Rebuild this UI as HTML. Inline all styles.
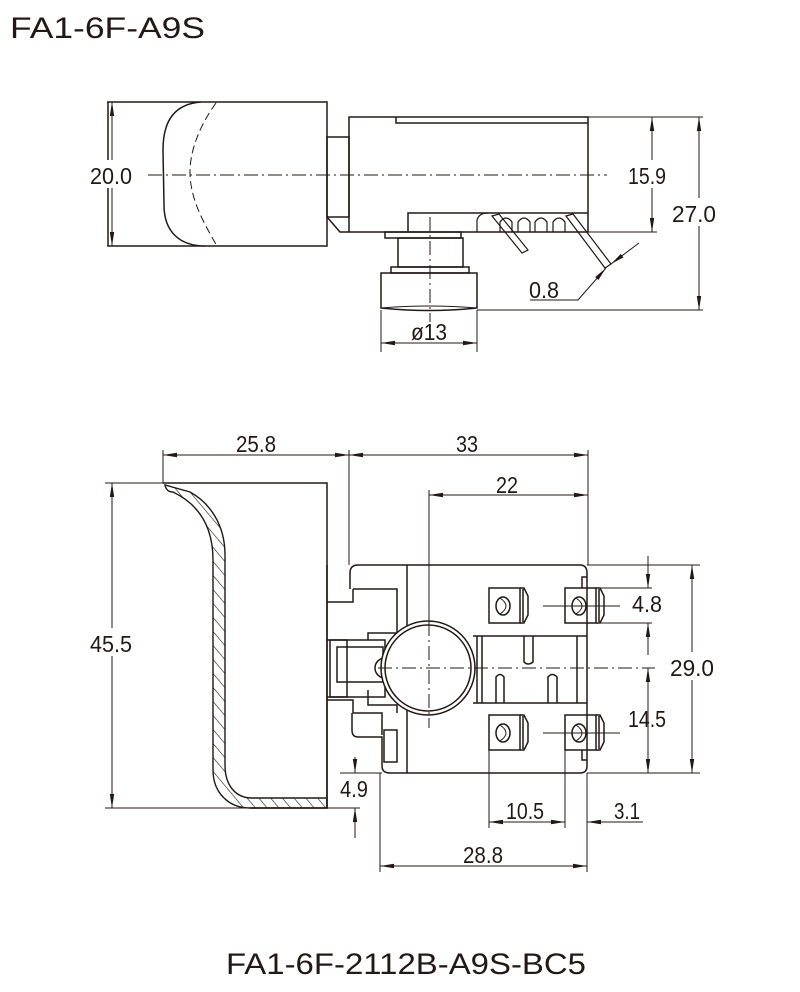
<!DOCTYPE html>
<html><head><meta charset="utf-8"><style>
html,body{margin:0;padding:0;background:#fff;width:800px;height:992px;overflow:hidden}
svg{display:block}
text{font-family:"Liberation Sans",sans-serif;fill:#231815}
.d{font-size:23px}
</style></head><body>
<svg width="800" height="992" viewBox="0 0 800 992" xmlns="http://www.w3.org/2000/svg">
<defs>
<marker id="a" viewBox="0 0 14 6" refX="14" refY="3" markerWidth="14" markerHeight="6" markerUnits="userSpaceOnUse" orient="auto-start-reverse"><path d="M0,0.8 L14,3 L0,5.2z" fill="#231815"/></marker>
<pattern id="h" patternUnits="userSpaceOnUse" width="9" height="9" patternTransform="rotate(-40)"><line x1="0" y1="0" x2="0" y2="9" stroke="#231815" stroke-width="1.2"/></pattern>
</defs>
<g fill="none" stroke="#231815" stroke-width="1.5">
<!-- ========== TOP VIEW ========== -->
<rect x="108" y="102" width="219" height="144"/>
<path d="M201,102 C175,104 163,120 163,150 L164,205 C164,232 180,246 205,246" fill="#fff"/>
<path d="M216,103 C200,125 190,150 190,172 C190,200 205,225 217,246" stroke-width="1" stroke-dasharray="8,4"/>
<rect x="327" y="137" width="22" height="80"/>
<path d="M327,217 L340,232 L349,232"/>
<rect x="349" y="117" width="239" height="115"/>
<path d="M396,117 L396,123 L588,123"/>
<path d="M408,232 L408,213 L588,213"/>
<path d="M477,232 L477,220 Q479,213 488,213 M500,232 L500,222 Q506,214 512,222 L512,232 M518,232 L518,222 Q524,214 530,222 L530,232 M535,232 L535,222 Q541,214 547,222 L547,232 M553,232 L553,222 Q559,214 565,222 L565,232" stroke-width="1.2"/>
<path d="M492,216 L522,253 L528,250 L499,214 Z" stroke-width="1.2"/>
<path d="M566,216 L605,268 L611,264 L573,214 Z" stroke-width="1.2"/>
<rect x="385" y="232" width="76" height="6"/>
<rect x="398" y="238" width="65" height="29"/>
<rect x="391" y="267" width="78" height="6"/>
<path d="M381,273 L477,273 L477,308 Q429,313 381,308 Z"/>
<path d="M381,308 Q429,304 477,308" stroke-width="1"/>
<g stroke-width="1">
<line x1="107" y1="102" x2="200" y2="102"/><line x1="107" y1="246" x2="205" y2="246"/>
<line x1="112" y1="102" x2="112" y2="246" marker-start="url(#a)" marker-end="url(#a)"/>
<line x1="148" y1="175" x2="607" y2="175" stroke-dasharray="14,4,2,4"/>
<line x1="430" y1="217" x2="430" y2="322" stroke-dasharray="14,4,2,4"/>
<line x1="588" y1="117" x2="703" y2="117"/><line x1="588" y1="232" x2="657" y2="232"/>
<line x1="652" y1="117" x2="652" y2="232" marker-start="url(#a)" marker-end="url(#a)"/>
<line x1="477" y1="310" x2="703" y2="310"/>
<line x1="699" y1="117" x2="699" y2="310" marker-start="url(#a)" marker-end="url(#a)"/>
<line x1="381" y1="310" x2="381" y2="352"/><line x1="477" y1="310" x2="477" y2="352"/>
<line x1="381" y1="343" x2="477" y2="343" marker-start="url(#a)" marker-end="url(#a)"/>
<path d="M530,300 L578,300 L606,268" marker-end="url(#a)"/>
<line x1="639" y1="243" x2="611" y2="264" marker-end="url(#a)"/>
</g>
<!-- ========== BOTTOM VIEW ========== -->
<path d="M163,483 L327,483 L327,808 L250,808"/>
<path d="M165,485 C166,490 169,492 173,492 C200,505 213,528 213,560 L213,770 C213,792 228,808 250,808 L327,808 L327,798 L252,798 C236,798 225,786 225,765 L225,555 C225,525 210,503 190,492 Z" fill="url(#h)" stroke-width="1.4"/>
<path d="M350,589 L350,573 Q350,565 358,565 L580,565 Q587,565 587,573 L587,766 Q587,773 580,773 L390,773 Q382,773 382,766 L382,737 L358,737 Q352,737 352,730 L352,713"/>
<path d="M353,589 L397,589 L397,633 L368,633 L368,640 M353,589 L353,602 L327,602 M327,565 L327,808"/>
<path d="M327,640 L347,640 L347,697 L327,697 M327,700 L353,700 L353,713 L382,713 L382,735"/>
<path d="M368,690 L368,705 L397,705 L397,713"/>
<line x1="407" y1="565" x2="407" y2="773"/>
<rect x="330" y="640" width="55" height="57"/>
<rect x="337" y="647" width="46" height="35"/>
<path d="M385,658 A10,10 0 0 0 385,678"/>
<circle cx="428" cy="668" r="47" fill="#fff"/>
<circle cx="428" cy="668" r="43"/>
<path d="M473,636 L587,636 M473,703 L587,703 M477,636 L477,703 M482,636 L482,703 M577,636 L577,703"/>
<path d="M524,636 L524,662 Q528,666 533,662 L533,636 M496,703 L496,677 Q500,672 504,677 L504,703 M548,703 L548,677 Q552,672 557,677 L557,703"/>
<rect x="384" y="730" width="13" height="32"/>
<path d="M582,588 L582,577 L587,577 M582,750 L582,760 L587,760"/>
<g id="t">
<rect x="489" y="588" width="31" height="35"/>
<path d="M520,588 L524,588 L528,596 L528,615 L524,623 L520,623 M523,589 L523,622"/>
<ellipse cx="503" cy="606" rx="7" ry="9"/>
<path d="M500,598 Q512,606 500,614" stroke-width="1"/>
</g>
<use href="#t" x="76" y="0"/>
<use href="#t" x="0" y="127"/>
<use href="#t" x="76" y="127"/>
<g stroke-width="1">
<line x1="163" y1="450" x2="163" y2="483"/><line x1="349" y1="450" x2="349" y2="565"/><line x1="588" y1="450" x2="588" y2="565"/>
<line x1="163" y1="455" x2="349" y2="455" marker-start="url(#a)" marker-end="url(#a)"/>
<line x1="349" y1="455" x2="588" y2="455" marker-start="url(#a)" marker-end="url(#a)"/>
<line x1="429" y1="490" x2="429" y2="622"/>
<line x1="429" y1="495" x2="588" y2="495" marker-start="url(#a)" marker-end="url(#a)"/>
<line x1="429" y1="622" x2="429" y2="728" stroke-dasharray="14,4,2,4"/>
<line x1="378" y1="668" x2="655" y2="668" stroke-dasharray="14,4,2,4"/>
<line x1="105" y1="483" x2="165" y2="483"/><line x1="105" y1="808" x2="360" y2="808"/>
<line x1="112" y1="483" x2="112" y2="808" marker-start="url(#a)" marker-end="url(#a)"/>
<line x1="587" y1="565" x2="700" y2="565"/><line x1="587" y1="773" x2="700" y2="773"/>
<line x1="692" y1="565" x2="692" y2="773" marker-start="url(#a)" marker-end="url(#a)"/>
<line x1="597" y1="588" x2="652" y2="588"/><line x1="597" y1="623" x2="652" y2="623"/>
<line x1="648" y1="556" x2="648" y2="588" marker-end="url(#a)"/>
<line x1="648" y1="655" x2="648" y2="623" marker-end="url(#a)"/>
<line x1="648" y1="668" x2="648" y2="773" marker-start="url(#a)" marker-end="url(#a)"/>
<line x1="543" y1="606" x2="620" y2="606"/><line x1="543" y1="733" x2="620" y2="733"/>
<line x1="340" y1="773" x2="382" y2="773"/>
<line x1="355" y1="757" x2="355" y2="773" marker-end="url(#a)"/>
<line x1="355" y1="838" x2="355" y2="808" marker-end="url(#a)"/>
<line x1="489" y1="750" x2="489" y2="828"/><line x1="565" y1="750" x2="565" y2="828"/>
<line x1="587" y1="773" x2="587" y2="872"/><line x1="380" y1="773" x2="380" y2="872"/>
<line x1="489" y1="822" x2="565" y2="822" marker-start="url(#a)" marker-end="url(#a)"/>
<line x1="587" y1="822" x2="643" y2="822"/>
<line x1="606" y1="822" x2="587" y2="822" marker-end="url(#a)"/>
<line x1="380" y1="866" x2="587" y2="866" marker-start="url(#a)" marker-end="url(#a)"/>
</g>
</g>
<text x="10" y="38" font-size="30" textLength="195" lengthAdjust="spacingAndGlyphs">FA1-6F-A9S</text>
<text x="226" y="974" font-size="30" textLength="360" lengthAdjust="spacingAndGlyphs">FA1-6F-2112B-A9S-BC5</text>
<g class="d">
<rect x="88" y="160" width="46" height="28" fill="#fff"/><text x="90" y="184" textLength="42" lengthAdjust="spacingAndGlyphs">20.0</text>
<rect x="626" y="160" width="44" height="28" fill="#fff"/><text x="628" y="184" textLength="38" lengthAdjust="spacingAndGlyphs">15.9</text>
<rect x="670" y="198" width="48" height="28" fill="#fff"/><text x="672" y="222" textLength="44" lengthAdjust="spacingAndGlyphs">27.0</text>
<text x="529" y="298" textLength="30" lengthAdjust="spacingAndGlyphs">0.8</text>
<text x="411" y="340" textLength="36" lengthAdjust="spacingAndGlyphs">ø13</text>
<text x="236" y="452" textLength="40" lengthAdjust="spacingAndGlyphs">25.8</text>
<text x="456" y="452" textLength="22" lengthAdjust="spacingAndGlyphs">33</text>
<text x="496" y="493" textLength="22" lengthAdjust="spacingAndGlyphs">22</text>
<rect x="88" y="628" width="46" height="28" fill="#fff"/><text x="90" y="652" textLength="42" lengthAdjust="spacingAndGlyphs">45.5</text>
<text x="632" y="612" textLength="30" lengthAdjust="spacingAndGlyphs">4.8</text>
<rect x="668" y="652" width="50" height="28" fill="#fff"/><text x="670" y="676" textLength="44" lengthAdjust="spacingAndGlyphs">29.0</text>
<text x="628" y="727" textLength="38" lengthAdjust="spacingAndGlyphs">14.5</text>
<text x="340" y="797" textLength="28" lengthAdjust="spacingAndGlyphs">4.9</text>
<text x="506" y="819" textLength="38" lengthAdjust="spacingAndGlyphs">10.5</text>
<text x="614" y="819" textLength="26" lengthAdjust="spacingAndGlyphs">3.1</text>
<text x="463" y="863" textLength="40" lengthAdjust="spacingAndGlyphs">28.8</text>
</g>
</svg>
</body></html>
